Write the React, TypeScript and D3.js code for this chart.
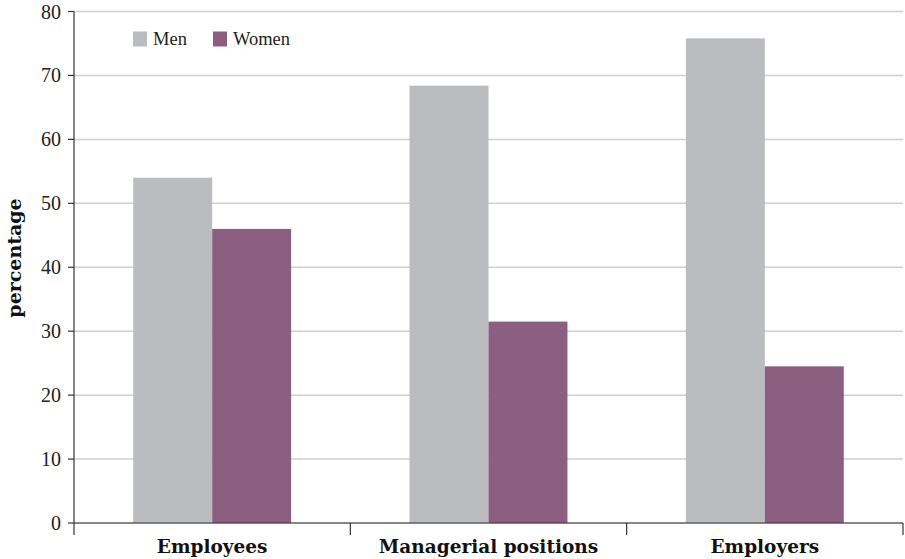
import * as d3 from 'd3';

// chart values
const categories = ['Employees', 'Managerial positions', 'Employers'];
const seriesNames = ['Men', 'Women'];
const menValues = [54.0, 68.4, 75.8];
const womenValues = [46.0, 31.5, 24.5];
const yTicks = [0, 10, 20, 30, 40, 50, 60, 70, 80];

const colors: Record<string, string> = { Men: '#bbbcc0', Women: '#8c5f80' };

const W = 905;
const H = 559;
const margin = { top: 11.5, right: 2, bottom: 36, left: 74 };

export default function App() {
  const width = W - margin.left - margin.right;
  const height = H - margin.top - margin.bottom;

  // outer band per category
  const x0 = d3.scaleBand().domain(categories).range([0, width]).padding(0);
  // inner band per series
  const x1 = d3
    .scaleBand()
    .domain(seriesNames)
    .range([0, x0.bandwidth()])
    .paddingInner(0)
    .paddingOuter(0.75);
  const y = d3.scaleLinear().domain([0, 80]).range([height, 0]);

  const rows = categories.map((c, i) => ({
    category: c,
    values: [
      { key: 'Men', value: menValues[i] },
      { key: 'Women', value: womenValues[i] },
    ],
  }));

  const serif = '"Liberation Serif", "DejaVu Serif", serif';
  const boldSerif = '"DejaVu Serif", serif';

  return (
    <svg
      width={W}
      height={H}
      style={{ position: 'absolute', left: 0, top: 0, background: '#fff' }}
    >
      <g transform={`translate(${margin.left},${margin.top})`}>
        {/* gridlines */}
        {yTicks.map((t) => (
          <line
            key={'g' + t}
            x1={0}
            x2={width}
            y1={y(t)}
            y2={y(t)}
            stroke="#cfcfcf"
            strokeWidth={1.5}
          />
        ))}

        {/* bars */}
        {rows.map((r) => (
          <g key={r.category} transform={`translate(${x0(r.category)},0)`}>
            {r.values.map((v) => (
              <rect
                key={v.key}
                x={x1(v.key)}
                y={y(v.value)}
                width={x1.bandwidth()}
                height={height - y(v.value)}
                fill={colors[v.key]}
              />
            ))}
          </g>
        ))}

        {/* y axis */}
        <line x1={0} x2={0} y1={y(80)} y2={height} stroke="#333" strokeWidth={1.2} />
        {yTicks.map((t) => (
          <g key={'t' + t} transform={`translate(0,${y(t)})`}>
            <line x1={-6} x2={0} stroke="#333" strokeWidth={1.2} />
            <text
              x={-13}
              dy="0.35em"
              textAnchor="end"
              fontFamily={serif}
              fontSize={20}
              fill="#222"
            >
              {t}
            </text>
          </g>
        ))}

        {/* x axis */}
        <line x1={0} x2={width} y1={height} y2={height} stroke="#333" strokeWidth={1.2} />
        {[0, ...categories.map((c) => (x0(c) as number) + x0.bandwidth())].map((px, i) => (
          <line
            key={'xt' + i}
            x1={px}
            x2={px}
            y1={height}
            y2={height + 12}
            stroke="#333"
            strokeWidth={1.2}
          />
        ))}
        {categories.map((c) => (
          <text
            key={'xl' + c}
            x={(x0(c) as number) + x0.bandwidth() / 2}
            y={height + 30}
            textAnchor="middle"
            fontFamily={boldSerif}
            fontWeight="bold"
            fontSize={18.5}
            fill="#111"
          >
            {c}
          </text>
        ))}

        {/* legend */}
        {seriesNames.map((s, i) => (
          <g key={'lg' + s} transform={`translate(${59 + i * 80},20)`}>
            <rect x={0} y={0} width={14} height={15} fill={colors[s]} />
            <text x={20} y={13} fontFamily={serif} fontSize={18.5} fill="#222">
              {s}
            </text>
          </g>
        ))}
      </g>

      {/* y axis title */}
      <text
        transform={`translate(21,258) rotate(-90)`}
        textAnchor="middle"
        fontFamily={boldSerif}
        fontWeight="bold"
        fontSize={19}
        fill="#111"
      >
        percentage
      </text>
    </svg>
  );
}
